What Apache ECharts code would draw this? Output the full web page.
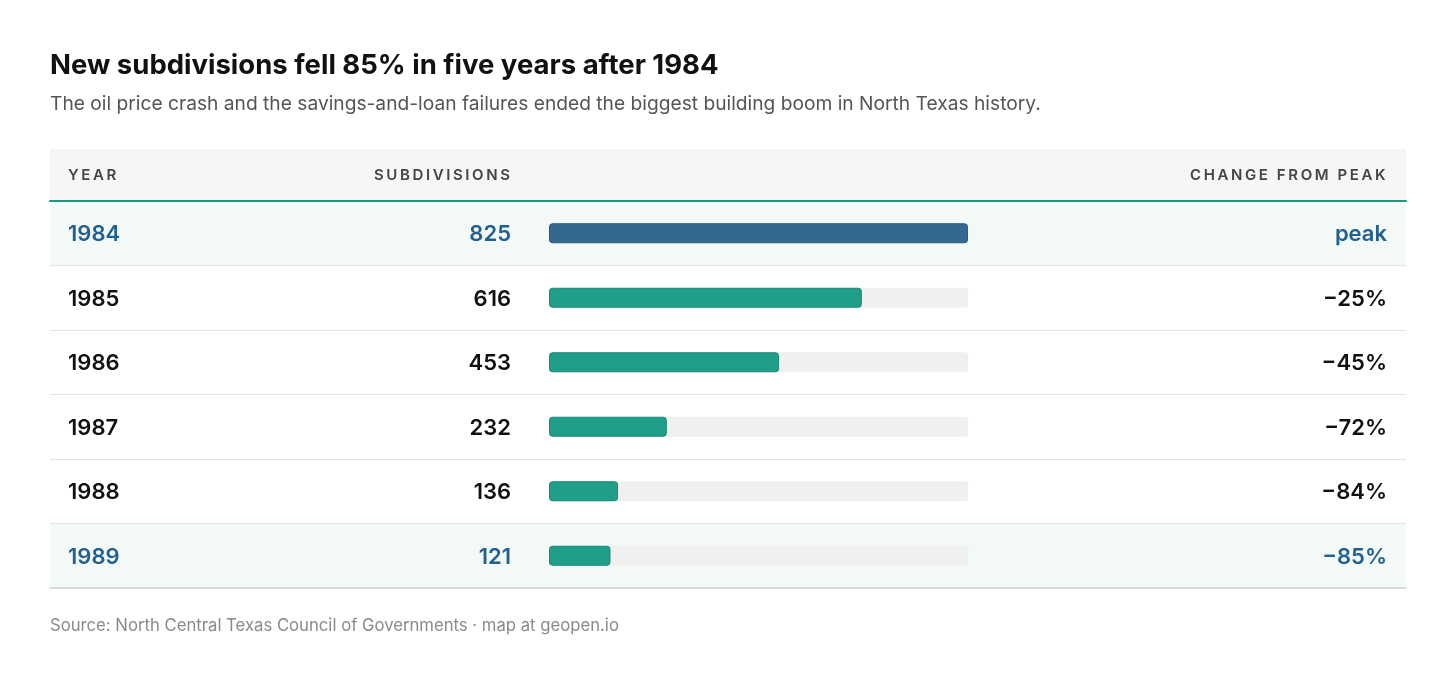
<!DOCTYPE html>
<html>
<head>
<meta charset="utf-8">
<script src="https://cdn.jsdelivr.net/npm/echarts@6/dist/echarts.min.js"></script>
<style>
  html, body { margin: 0; padding: 0; background: #fff; }
  #chart { width: 1456px; height: 674px; }
</style>
</head>
<body>
<div id="chart"></div>
<script>
const years = ['1984', '1985', '1986', '1987', '1988', '1989'];
const subdivisions = [825, 616, 453, 232, 136, 121];
const changeLabels = ['peak', '\u221225%', '\u221245%', '\u221272%', '\u221284%', '\u221285%'];
const highlightYears = ['1984', '1989'];
const headers = ['YEAR', 'SUBDIVISIONS', 'CHANGE FROM PEAK'];

// column headers are letter-spaced in the original; canvas can do that natively
const origFillText = CanvasRenderingContext2D.prototype.fillText;
CanvasRenderingContext2D.prototype.fillText = function (t, x, y, w) {
  const spaced = headers.indexOf(t) >= 0;
  if ('letterSpacing' in this) {
    this.letterSpacing = spaced ? '2.6px' : '0px';
  }
  origFillText.apply(this, arguments);
  if ('letterSpacing' in this) {
    this.letterSpacing = '0px';
  }
};

var myChart = echarts.init(document.getElementById('chart'));

const peak = Math.max.apply(null, subdivisions);
const FONT = 'Inter, "Noto Sans", sans-serif';
const BLUE = '#22608f';

function isHl(idx) {
  return highlightYears.indexOf(years[idx]) >= 0;
}

function rowLabel(text, idx) {
  return (isHl(idx) ? '{hl|' : '{n|') + text + '}';
}

const rowRich = {
  hl: { color: BLUE, fontSize: 22, fontWeight: 600, fontFamily: FONT, padding: [3, 0, 0, 0] },
  n: { color: '#111', fontSize: 22, fontWeight: 600, fontFamily: FONT, padding: [3, 0, 0, 0] }
};

function headerTitle(text, left) {
  return {
    text: text, left: left, top: 168, padding: 0,
    textStyle: { fontFamily: FONT, fontSize: 15, fontWeight: 600, color: '#444' }
  };
}

var option = {
  backgroundColor: '#fff',
  animation: false,
  title: [
    {
      text: 'New subdivisions fell 85% in five years after 1984',
      left: 50, top: 52, padding: 0,
      textStyle: { fontFamily: FONT, fontSize: 27.5, fontWeight: 700, color: '#111' }
    },
    {
      text: 'The oil price crash and the savings-and-loan failures ended the biggest building boom in North Texas history.',
      left: 50, top: 95, padding: 0,
      textStyle: { fontFamily: FONT, fontSize: 19.2, fontWeight: 400, color: '#555' }
    },
    headerTitle(headers[0], 68),
    headerTitle(headers[1], 374),
    headerTitle(headers[2], 1190),
    {
      text: 'Source: North Central Texas Council of Governments \u00b7 map at geopen.io',
      left: 50, top: 617, padding: 0,
      textStyle: { fontFamily: FONT, fontSize: 16.7, fontWeight: 400, color: '#8a8a8a' }
    }
  ],
  graphic: [
    {
      type: 'rect',
      shape: { x: 50, y: 149, width: 1356, height: 51 },
      style: { fill: '#f6f6f4' },
      z: -1
    }
  ],
  grid: [
    { left: 50, right: 50, top: 201, height: 387 },
    { left: 549, right: 488, top: 201, height: 387 }
  ],
  xAxis: [
    {
      gridIndex: 0, type: 'value', position: 'top', min: 0, max: 1,
      axisLine: { show: true, lineStyle: { color: '#179b80', width: 2 } },
      axisTick: { show: false }, axisLabel: { show: false }, splitLine: { show: false }
    },
    {
      gridIndex: 0, type: 'value', position: 'bottom', min: 0, max: 1,
      axisLine: { show: true, lineStyle: { color: '#d2d2d2', width: 1.5 } },
      axisTick: { show: false }, axisLabel: { show: false }, splitLine: { show: false }
    },
    {
      gridIndex: 1, type: 'value', min: 0, max: peak, show: false
    }
  ],
  yAxis: [
    {
      gridIndex: 0, type: 'category', data: years, inverse: true,
      axisLine: { show: false }, axisTick: { show: false }, axisLabel: { show: false },
      splitLine: { show: true, lineStyle: { color: '#e4e4e4', width: 1 } },
      splitArea: {
        show: true,
        areaStyle: {
          color: years.map(function (y) {
            return highlightYears.indexOf(y) >= 0 ? '#f3f9f7' : '#ffffff';
          })
        }
      }
    },
    {
      gridIndex: 1, type: 'category', data: years, inverse: true, position: 'left',
      axisLine: { show: false }, axisTick: { show: false },
      axisLabel: {
        align: 'left', margin: 481, rich: rowRich,
        formatter: function (val, idx) { return rowLabel(val, idx); }
      }
    },
    {
      gridIndex: 1, type: 'category', data: years, inverse: true, position: 'left',
      axisLine: { show: false }, axisTick: { show: false },
      axisLabel: {
        align: 'right', margin: 38, rich: rowRich,
        formatter: function (val, idx) { return rowLabel(String(subdivisions[idx]), idx); }
      }
    },
    {
      gridIndex: 1, type: 'category', data: years, inverse: true, position: 'right',
      axisLine: { show: false }, axisTick: { show: false },
      axisLabel: {
        align: 'right', margin: 419, rich: rowRich,
        formatter: function (val, idx) { return rowLabel(changeLabels[idx], idx); }
      }
    }
  ],
  series: [
    {
      type: 'bar',
      xAxisIndex: 2,
      yAxisIndex: 1,
      barWidth: 20,
      silent: true,
      showBackground: true,
      backgroundStyle: { color: '#f0f0ee', borderRadius: 3 },
      data: subdivisions.map(function (v) {
        var isPeak = v === peak;
        return {
          value: v,
          itemStyle: {
            color: isPeak ? '#33698f' : '#1f9e88',
            borderColor: isPeak ? '#275a80' : '#17897a',
            borderWidth: 1,
            borderRadius: 3
          }
        };
      })
    }
  ]
};

myChart.setOption(option);
</script>
</body>
</html>
